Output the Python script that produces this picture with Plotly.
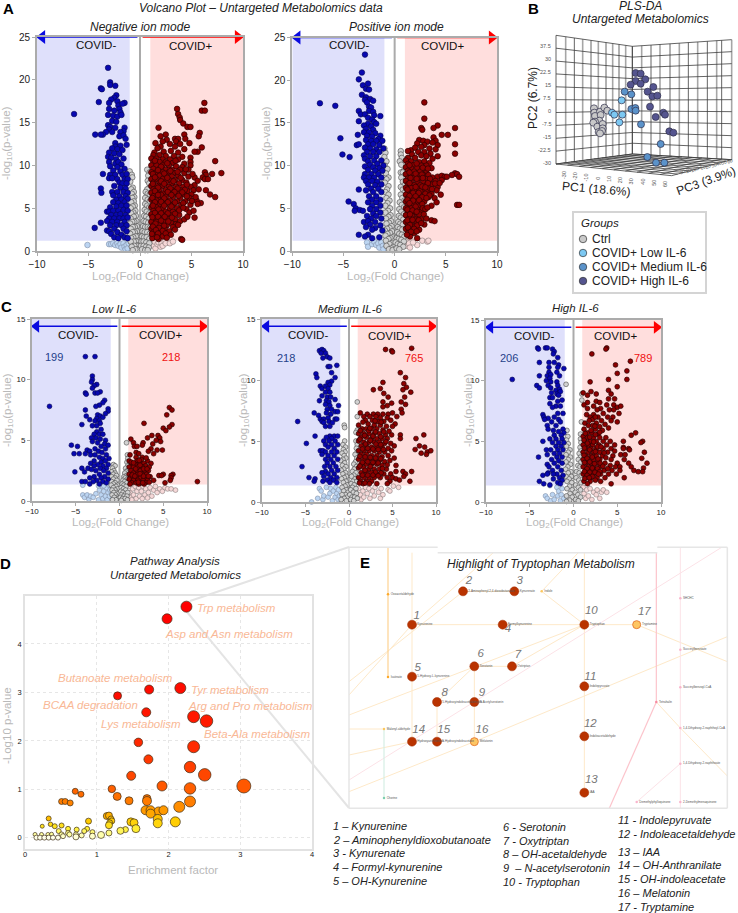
import plotly.graph_objects as go

W, H = 738, 913
FONT = "Liberation Sans"

# ---------- Panel A, negative mode ----------
a1_blue = [(-3.1,21.4),(-2.9,19.7),(-2.9,19.4),(-2.4,19.3),(-3.8,19.0),(-3.7,18.9),(-2.3,18.2),(-2.5,17.9),(-2.8,17.7),(-2.2,17.5),(-4.0,17.4),(-3.0,17.3),(-1.5,17.3),(-2.1,17.0),(-1.7,17.2),(-3.0,16.6),(-2.0,16.6),(-2.5,16.4),(-1.9,16.2),(-6.4,16.0),(-3.1,15.9),(-2.6,15.8),(-2.2,15.7),(-1.8,15.9),(-2.7,15.2),(-2.3,15.1),(-3.1,14.7),(-2.9,14.5),(-2.4,14.4),(-1.5,14.4),(-1.6,14.0),(-3.0,14.2),(-3.3,13.9),(-2.7,13.9),(-1.9,13.9),(-3.6,13.6),(-4.35,13.6),(-3.8,13.6),(-2.0,13.4),(-1.6,13.5),(-1.4,13.1),(-2.4,12.6),(-2.4,12.2),(-1.9,12.3),(-1.3,12.4),(-2.7,12.0),(-2.2,11.9),(-1.7,11.8),(-3.0,11.5),(-2.5,11.4),(-2.0,11.3),(-3.1,11.0),(-2.8,10.9),(-2.3,10.7),(-1.6,10.8),(-3.0,10.4),(-2.4,10.2),(-2.1,10.4),(-1.8,10.1),(-2.9,9.9),(-2.2,9.8),(-1.5,9.6),(-2.6,9.4),(-1.9,9.3),(-3.6,9.0),(-2.9,8.9),(-2.4,8.9),(-1.7,8.9),(-1.3,9.0),(-3.0,8.5),(-2.7,8.5),(-2.2,8.4),(-1.5,8.4),(-1.2,8.4),(-2.0,8.0),(-1.7,7.9),(-1.3,7.9),(-2.5,7.6),(-1.9,7.4),(-3.8,7.3),(-1.4,7.3),(-3.75,6.8),(-2.7,6.9),(-2.2,6.9),(-1.6,6.9),(-1.2,6.8),(-2.6,6.5),(-2.0,6.4),(-1.4,6.4),(-2.3,6.0),(-1.8,6.0),(-1.2,6.1),(-2.6,5.7),(-2.1,5.6),(-1.5,5.7),(-2.9,5.1),(-2.3,5.2),(-1.8,5.3),(-1.3,5.3),(-3.2,4.6),(-3.0,4.6),(-2.6,4.7),(-2.1,4.7),(-1.6,4.8),(-1.2,4.7),(-2.8,4.2),(-2.3,4.2),(-1.9,4.3),(-1.4,4.2),(-3.0,3.8),(-2.5,3.8),(-2.0,3.8),(-1.6,3.8),(-1.2,3.9),(-3.2,3.5),(-2.7,3.4),(-2.2,3.4),(-1.5,3.4),(-3.8,3.3),(-2.9,3.0),(-2.3,3.0),(-1.8,3.0),(-1.3,3.0),(-4.4,2.7),(-2.5,2.6),(-1.6,2.6),(-3.2,2.4),(-3.0,2.3),(-2.2,2.2),(-1.3,2.3),(-2.8,2.0),(-1.8,1.9),(-2.5,1.6),(-1.5,1.6),(-2.1,1.5),(-1.2,1.5)]
a1_red = [(6.25,17.3),(6.0,16.4),(6.3,16.4),(3.6,16.6),(3.7,16.0),(3.85,15.6),(3.9,15.3),(4.2,14.9),(4.6,14.5),(4.9,14.5),(1.8,14.4),(5.8,13.8),(2.5,13.6),(2.0,13.4),(4.3,13.6),(5.7,13.4),(4.4,13.1),(3.4,13.1),(3.7,13.1),(2.6,13.0),(2.2,12.8),(3.5,12.8),(1.5,12.6),(3.9,12.5),(2.9,12.5),(4.8,12.6),(2.0,12.2),(1.7,12.0),(3.4,12.2),(6.0,12.1),(4.3,11.9),(5.6,11.6),(1.4,11.5),(2.3,11.6),(3.0,11.7),(3.7,11.5),(5.3,11.6),(1.3,11.2),(1.9,11.2),(2.5,11.1),(3.3,11.1),(4.1,11.0),(1.1,10.8),(1.6,10.8),(2.2,10.7),(2.9,10.7),(3.7,10.7),(4.9,10.9),(7.3,10.5),(1.3,10.4),(1.9,10.4),(2.5,10.4),(3.2,10.3),(4.3,10.2),(4.9,10.4),(1.1,10.0),(1.6,10.0),(2.2,10.0),(2.8,10.0),(3.5,9.9),(4.1,9.8),(4.9,10.0),(1.3,9.6),(1.9,9.6),(2.5,9.5),(3.1,9.5),(3.9,9.5),(4.7,9.5),(1.1,9.2),(1.6,9.2),(2.2,9.2),(2.8,9.2),(3.4,9.1),(4.3,9.1),(6.3,9.2),(6.4,8.9),(7.0,9.0),(7.9,9.1),(1.3,8.8),(1.9,8.8),(2.5,8.8),(3.1,8.7),(3.7,8.8),(4.7,8.7),(6.1,8.6),(6.3,8.4),(6.6,8.4),(1.1,8.4),(1.6,8.4),(2.2,8.4),(2.8,8.3),(3.4,8.3),(4.1,8.3),(1.3,8.0),(1.9,8.0),(2.5,8.0),(3.1,7.9),(3.8,7.9),(4.5,8.0),(5.3,7.7),(1.1,7.6),(1.6,7.6),(2.2,7.6),(2.8,7.5),(3.5,7.5),(4.2,7.5),(4.9,7.5),(6.4,7.1),(1.3,7.2),(1.9,7.2),(2.5,7.1),(3.1,7.1),(3.9,7.1),(4.6,7.0),(5.2,7.1),(1.1,6.8),(1.6,6.8),(2.2,6.7),(2.9,6.7),(3.6,6.7),(4.3,6.6),(5.0,6.6),(6.8,6.6),(7.3,6.3),(1.3,6.4),(1.9,6.3),(2.5,6.3),(3.2,6.3),(3.9,6.2),(4.8,6.2),(1.1,6.0),(1.6,5.9),(2.2,5.9),(2.9,5.9),(3.6,5.8),(4.4,5.8),(5.5,5.9),(5.9,5.6),(5.6,5.5),(1.3,5.5),(1.9,5.5),(2.5,5.5),(3.2,5.4),(4.0,5.4),(4.9,5.4),(1.1,5.1),(1.6,5.1),(2.2,5.0),(2.9,5.0),(3.6,5.0),(4.5,4.9),(1.3,4.7),(1.9,4.6),(2.5,4.6),(3.2,4.6),(1.1,4.3),(1.6,4.2),(2.2,4.2),(2.9,4.2),(3.8,4.2),(4.8,4.5),(1.3,3.8),(1.9,3.8),(2.6,3.8),(3.4,3.7),(1.1,3.4),(1.6,3.4),(2.3,3.4),(3.0,3.3),(3.9,3.5),(5.3,3.9),(1.3,3.0),(1.9,3.0),(2.6,3.0),(1.1,2.6),(1.7,2.6),(2.4,2.6),(1.3,2.2),(2.0,2.2),(1.5,1.8),(2.2,1.7),(1.2,1.5),(1.8,1.4),(4.0,1.4),(4.1,1.3)]
a1_red2 = [(1.45,10.55),(2.05,9.85),(2.65,10.25),(3.45,10.55),(1.25,9.0),(1.75,9.45),(2.35,9.05),(2.95,9.35),(3.65,9.25),(4.45,9.55),(1.45,8.6),(2.05,8.15),(2.65,8.55),(3.25,8.15),(3.95,8.55),(4.55,7.75),(1.25,7.85),(1.75,7.4),(2.35,7.85),(2.95,7.3),(3.65,7.3),(4.35,7.15),(1.45,7.0),(2.05,6.55),(2.7,6.9),(3.35,6.9),(4.1,6.85),(1.2,6.2),(1.75,6.55),(2.35,6.15),(3.05,6.55),(3.75,6.45),(4.55,6.4),(1.45,5.7),(2.05,5.75),(2.7,5.7),(3.4,5.65),(4.2,5.6),(1.25,5.3),(1.8,4.85),(2.35,5.3),(3.05,5.2),(3.8,4.75),(1.45,4.45),(2.05,4.4),(2.7,4.4),(3.4,4.35),(1.2,3.95),(1.75,4.0),(2.4,4.0),(3.1,3.9),(1.5,3.2),(2.05,3.55),(2.75,3.45),(3.5,3.15),(1.25,2.85),(1.85,2.7),(2.35,2.95),(3.2,2.8),(1.55,2.45),(2.2,2.35),(2.85,2.3),(1.15,2.0),(1.75,2.05),(2.5,2.05),(3.4,2.5),(3.0,1.9),(1.65,1.6),(2.6,1.55),(3.7,3.05),(4.3,3.7),(4.6,4.0),(4.2,5.05),(5.2,4.7),(5.05,5.85),(5.4,6.3),(5.7,7.2),(5.3,8.6),(5.6,8.2),(5.1,9.0)]
a1_grey = [(-1.0,9.3),(-0.8,8.9),(-0.75,8.6),(-0.95,8.1),(-0.7,7.4),(-0.85,7.2),(-0.6,6.9),(-0.8,6.7),(-0.55,6.3),(-0.75,6.2),(-0.6,5.8),(-0.85,5.7),(-0.5,5.3),(-0.7,5.2),(-0.9,5.0),(-0.45,4.7),(-0.65,4.5),(-0.85,4.4),(-0.4,4.1),(-0.6,4.0),(-0.9,3.8),(-0.35,3.5),(-0.55,3.4),(-0.75,3.4),(-0.95,3.2),(-0.3,2.9),(-0.5,2.8),(-0.7,2.8),(-0.9,2.6),(-0.3,2.3),(-0.5,2.2),(-0.7,2.2),(-0.95,2.0),(-0.2,1.7),(-0.4,1.7),(-0.65,1.6),(-0.85,1.5),(-0.15,1.2),(-0.35,1.1),(-0.6,1.1),(-0.9,1.1),(-0.1,0.7),(-0.3,0.6),(-0.55,0.6),(-0.8,0.5),(-0.2,0.2),(-0.45,0.2),(-0.7,0.1),(0.7,9.5),(0.95,9.2),(0.8,8.8),(0.75,8.2),(0.9,7.9),(0.85,7.3),(0.7,7.2),(0.55,6.9),(0.75,6.7),(0.95,6.6),(0.5,6.2),(0.75,6.0),(0.95,5.8),(0.5,5.5),(0.7,5.3),(0.9,5.1),(0.45,4.8),(0.65,4.6),(0.9,4.4),(0.4,4.1),(0.6,4.0),(0.85,3.8),(0.35,3.5),(0.55,3.4),(0.8,3.3),(0.3,2.9),(0.5,2.8),(0.75,2.8),(0.95,2.7),(0.25,2.3),(0.45,2.2),(0.7,2.2),(0.95,2.0),(0.2,1.7),(0.4,1.6),(0.65,1.6),(0.9,1.4),(0.15,1.1),(0.35,1.1),(0.6,1.0),(0.9,0.9),(0.1,0.6),(0.35,0.6),(0.6,0.5),(0.85,0.4),(0.2,0.2),(0.5,0.1),(0.75,0.1)]
a1_lblue = [(-5.1,0.7),(-3.0,0.8),(-2.8,0.8),(-2.6,0.9),(-2.4,0.7),(-2.2,0.9),(-2.1,0.6),(-1.9,0.8),(-1.8,0.4),(-1.6,0.9),(-1.5,0.5),(-1.4,0.2),(-1.3,0.7),(-1.2,0.3),(-1.1,0.9)]
a1_pink = [(1.1,0.9),(1.3,0.6),(1.4,1.1),(1.5,0.3),(1.7,0.8),(1.8,1.0),(2.0,0.5),(2.1,0.9),(2.2,0.6),(2.4,1.1),(2.5,0.9),(2.9,0.9),(3.2,1.1)]

# ---------- Panel A, positive mode ----------
a2_blue = [(-2.9,23.0),(-3.2,20.9),(-3.5,20.1),(-2.6,19.6),(-3.1,19.4),(-2.8,19.0),(-2.5,18.9),(-3.2,18.3),(-2.8,18.0),(-2.9,17.7),(-2.4,17.8),(-2.1,17.6),(-7.3,17.3),(-2.7,17.4),(-5.8,17.0),(-2.5,16.9),(-2.3,16.8),(-3.5,16.4),(-2.5,16.4),(-2.1,16.3),(-3.3,16.0),(-2.9,16.0),(-2.0,15.9),(-1.4,15.8),(-2.6,15.6),(-2.2,15.4),(-3.5,15.2),(-2.0,15.1),(-2.6,14.9),(-1.8,14.9),(-3.0,14.7),(-2.3,14.6),(-2.8,14.3),(-2.1,14.2),(-3.0,13.9),(-2.5,13.9),(-1.9,13.8),(-1.4,13.5),(-3.6,13.6),(-2.7,13.5),(-2.2,13.4),(-5.3,13.2),(-1.6,13.1),(-2.8,13.0),(-2.3,12.9),(-1.8,12.9),(-1.2,12.9),(-3.7,12.4),(-3.5,12.5),(-2.6,12.5),(-2.1,12.5),(-1.5,12.4),(-2.9,12.1),(-2.4,12.0),(-1.1,12.0),(-1.8,11.9),(-2.7,11.6),(-2.1,11.6),(-1.5,11.6),(-5.1,11.3),(-3.0,11.2),(-2.4,11.1),(-1.8,11.1),(-4.4,11.0),(-2.9,10.8),(-2.6,10.5),(-2.0,10.6),(-1.3,10.6),(-2.4,10.1),(-1.7,10.2),(-1.1,10.0),(-2.9,9.9),(-2.1,9.8),(-1.5,9.7),(-2.6,9.5),(-1.9,9.4),(-1.2,9.4),(-2.9,9.0),(-2.3,9.0),(-1.6,9.0),(-3.0,8.6),(-2.5,8.6),(-2.0,8.6),(-1.3,8.6),(-2.8,8.2),(-2.2,8.2),(-1.7,8.1),(-2.6,7.8),(-1.9,7.7),(-1.3,7.8),(-3.5,7.2),(-2.3,7.3),(-1.6,7.3),(-2.8,7.1),(-2.1,6.9),(-1.3,6.9),(-2.5,6.4),(-1.8,6.4),(-2.2,6.0),(-1.4,6.0),(-4.5,5.8),(-2.6,5.7),(-1.8,5.7),(-4.0,5.5),(-2.2,5.3),(-1.4,5.3),(-3.8,5.0),(-2.4,4.9),(-1.8,4.9),(-3.4,4.8),(-3.1,4.7),(-3.9,4.7),(-2.1,4.4),(-1.4,4.5),(-2.7,4.1),(-1.8,4.1),(-2.3,3.8),(-1.3,3.8),(-3.0,3.4),(-2.6,3.5),(-1.9,3.4),(-2.4,3.1),(-1.4,3.0),(-2.8,2.8),(-1.9,2.7),(-2.2,2.5),(-1.2,2.4),(-3.5,1.9),(-2.6,1.9),(-2.9,1.7),(-2.2,1.5),(-1.5,1.6)]
a2_red = [(2.9,17.4),(2.9,15.5),(5.9,14.4),(2.6,14.4),(2.7,14.2),(4.2,14.7),(3.8,14.4),(4.6,13.6),(5.2,13.6),(3.8,13.3),(4.0,12.9),(2.4,13.0),(2.8,12.9),(5.9,12.5),(2.2,12.6),(3.2,12.8),(3.7,12.7),(4.2,12.4),(2.9,12.4),(1.6,11.8),(2.6,12.2),(2.0,12.1),(3.4,12.0),(4.0,11.9),(5.9,11.4),(1.3,11.7),(2.3,11.6),(2.9,11.6),(3.5,11.4),(1.7,11.3),(2.6,11.2),(3.1,11.1),(4.2,11.1),(1.3,10.9),(2.0,10.9),(3.7,10.8),(1.1,10.6),(1.6,10.5),(2.4,10.4),(2.9,10.5),(3.4,10.3),(1.3,10.2),(1.9,10.1),(2.6,10.0),(3.1,10.0),(1.1,9.8),(1.6,9.7),(2.2,9.7),(2.9,9.6),(3.6,9.7),(1.3,9.4),(1.9,9.3),(2.5,9.3),(3.1,9.2),(1.1,9.0),(1.6,8.9),(2.2,8.9),(2.8,8.9),(3.3,8.9),(5.9,9.1),(6.1,9.0),(5.6,8.9),(1.3,8.5),(1.9,8.6),(2.5,8.5),(3.1,8.4),(3.7,8.6),(4.2,8.7),(4.6,8.8),(4.9,8.7),(5.1,8.7),(6.3,8.7),(1.1,8.2),(1.6,8.1),(2.2,8.1),(2.8,8.1),(3.4,8.1),(4.0,8.2),(4.6,8.3),(1.3,7.8),(1.9,7.7),(2.5,7.7),(3.1,7.7),(3.7,7.8),(1.1,7.4),(1.6,7.4),(2.2,7.3),(2.8,7.3),(3.4,7.3),(4.2,7.5),(1.3,7.0),(1.9,7.0),(2.5,7.0),(3.1,6.9),(4.1,7.1),(1.1,6.6),(1.6,6.6),(2.2,6.6),(2.9,6.5),(3.6,6.7),(4.5,6.6),(1.3,6.2),(1.9,6.2),(2.5,6.1),(3.3,6.3),(3.9,6.2),(1.1,5.8),(1.6,5.8),(2.2,5.7),(2.9,5.8),(1.3,5.4),(1.9,5.4),(2.5,5.3),(6.1,5.4),(6.3,5.4),(1.1,5.0),(1.6,5.0),(2.2,4.9),(1.3,4.6),(1.9,4.5),(2.6,4.6),(1.1,4.2),(1.7,4.1),(2.3,4.1),(1.4,3.8),(2.0,3.7),(2.6,3.7),(1.1,3.4),(1.6,3.3),(2.2,3.3),(3.6,3.6),(3.9,3.5),(1.3,3.0),(2.0,2.9),(2.9,3.1),(1.1,2.6),(1.7,2.5),(2.4,2.5),(1.3,2.1),(1.9,2.1),(1.5,1.7),(2.2,1.5)]
a2_red2 = [(1.45,10.05),(2.15,10.25),(2.75,9.75),(3.25,9.65),(1.45,9.2),(2.05,9.05),(2.65,8.95),(3.45,8.45),(1.55,8.55),(2.15,8.45),(2.75,8.55),(3.25,7.95),(1.45,7.95),(2.05,7.5),(2.7,7.55),(3.0,7.45),(3.65,7.25),(1.25,7.2),(1.8,6.8),(2.35,6.8),(3.0,6.7),(3.4,6.5),(1.45,6.45),(2.05,6.4),(2.7,6.3),(3.1,6.2),(1.25,6.0),(1.8,5.9),(2.4,5.95),(2.7,5.5),(1.45,5.6),(2.05,5.2),(2.75,5.0),(1.25,4.85),(1.75,4.75),(2.4,4.3),(3.0,4.9),(1.5,4.3),(2.15,4.6),(2.85,4.3),(1.25,3.6),(1.75,3.65),(2.35,3.6),(3.1,3.8),(1.5,3.05),(2.2,3.0),(2.6,3.25),(1.3,2.75),(1.9,2.6),(2.15,2.3),(1.6,2.25),(1.2,1.9),(3.95,7.9),(4.4,7.95),(3.6,5.3),(4.1,5.7),(3.2,5.1)]
a2_grey = [(-1.0,12.0),(-0.9,11.5),(-1.0,11.0),(-0.8,10.5),(-0.95,10.0),(-0.7,9.6),(-0.85,9.1),(-0.6,8.6),(-0.8,8.4),(-0.95,8.0),(-0.6,7.6),(-0.75,7.2),(-0.9,6.9),(-0.6,6.6),(-0.8,6.2),(-0.5,5.9),(-0.7,5.6),(-0.9,5.3),(-0.45,5.0),(-0.65,4.7),(-0.9,4.5),(-0.4,4.2),(-0.6,4.0),(-0.85,3.8),(-0.35,3.5),(-0.55,3.3),(-0.8,3.2),(-0.3,2.9),(-0.5,2.7),(-0.75,2.6),(-0.95,2.4),(-0.25,2.3),(-0.45,2.1),(-0.7,2.0),(-0.9,1.8),(-0.2,1.6),(-0.4,1.5),(-0.6,1.4),(-0.85,1.2),(-0.1,1.1),(-0.3,0.9),(-0.5,0.8),(-0.8,0.6),(-0.1,0.5),(-0.3,0.3),(-0.55,0.2),(-0.2,0.1),(0.6,11.7),(0.6,11.3),(0.7,10.9),(0.5,10.5),(0.65,10.1),(0.9,9.4),(0.6,9.2),(0.8,9.2),(0.95,8.8),(0.65,8.6),(0.8,8.1),(0.95,7.7),(0.6,7.5),(0.8,7.2),(0.95,6.8),(0.6,6.6),(0.75,6.2),(0.95,5.9),(0.5,5.7),(0.7,5.4),(0.9,5.1),(0.45,4.9),(0.65,4.6),(0.9,4.3),(0.4,4.1),(0.6,3.9),(0.85,3.7),(0.35,3.4),(0.55,3.2),(0.8,3.1),(0.3,2.8),(0.5,2.6),(0.75,2.5),(0.25,2.2),(0.45,2.0),(0.7,1.9),(0.95,1.7),(0.2,1.5),(0.4,1.4),(0.65,1.3),(0.9,1.1),(0.1,1.0),(0.3,0.8),(0.55,0.7),(0.85,0.5),(0.2,0.3),(0.45,0.2)]
a2_lblue = [(-2.7,1.0),(-2.6,0.5),(-2.2,0.8),(-2.0,1.1),(-1.8,0.7),(-1.6,0.9),(-1.5,0.4),(-1.3,1.0),(-1.15,0.6),(-1.1,0.2)]
a2_pink = [(1.1,1.1),(1.2,0.6),(1.4,0.9),(1.5,0.4),(2.2,0.7),(2.7,1.2),(3.2,1.1),(3.3,1.2),(1.8,1.0)]

# ---------- Panel C, low IL-6 ----------
c1_blue = [(-3.9,11.9),(-2.8,11.9),(-3.1,10.3),(-3.1,10.0),(-3.2,9.8),(-2.6,9.6),(-2.9,9.5),(-3.1,9.3),(-3.9,8.9),(-3.8,8.8),(-2.2,9.0),(-2.8,8.9),(-2.5,8.9),(-1.7,8.3),(-1.9,8.1),(-2.3,7.9),(-2.7,7.8),(-8.0,7.8),(-1.3,7.6),(-1.3,7.4),(-3.9,7.5),(-1.6,7.2),(-2.5,7.1),(-2.2,7.0),(-2.6,6.8),(-3.8,7.0),(-1.9,6.9),(-3.4,6.7),(-2.8,6.6),(-2.3,6.6),(-2.2,6.4),(-4.3,6.3),(-2.6,6.2),(-3.1,6.2),(-2.1,5.9),(-2.6,5.7),(-2.9,5.5),(-2.3,5.5),(-1.9,5.5),(-2.7,5.2),(-3.2,5.2),(-2.2,5.1),(-1.6,5.0),(-3.1,4.9),(-2.5,4.8),(-1.7,4.7),(-5.5,4.6),(-2.1,4.5),(-1.3,4.6),(-4.8,4.5),(-2.8,4.3),(-1.6,4.3),(-3.7,4.2),(-3.4,4.1),(-2.4,4.1),(-2.0,4.0),(-5.2,3.9),(-4.6,3.9),(-3.9,3.9),(-3.3,3.8),(-2.8,3.8),(-1.5,3.8),(-2.3,3.6),(-1.9,3.5),(-1.2,3.5),(-2.9,3.3),(-2.1,3.2),(-1.6,3.3),(-3.3,3.1),(-2.5,3.0),(-1.3,3.0),(-2.9,2.9),(-1.9,2.9),(-4.3,2.7),(-3.6,2.7),(-2.2,2.7),(-1.5,2.7),(-3.2,2.6),(-2.7,2.5),(-1.8,2.5),(-5.1,2.4),(-4.0,2.4),(-1.3,2.3),(-2.3,2.2),(-2.9,2.0),(-1.7,2.0),(-2.1,1.9),(-1.3,1.8),(-3.4,1.9),(-2.6,1.7),(-4.3,1.6),(-3.9,1.6),(-3.0,1.6),(-1.9,1.6),(-1.5,1.5),(-3.4,1.4),(-2.3,1.4)]
c1_red = [(5.7,7.7),(6.0,7.5),(5.4,7.1),(2.8,6.4),(6.0,6.3),(5.7,6.1),(5.0,6.0),(5.3,5.8),(3.7,5.4),(4.4,5.4),(4.6,5.2),(3.2,5.2),(1.3,5.1),(4.2,5.0),(1.6,4.8),(2.7,4.8),(4.7,4.9),(3.8,4.7),(2.6,4.6),(1.7,4.5),(2.0,4.5),(3.6,4.3),(4.3,4.2),(4.9,4.2),(1.9,4.0),(3.3,4.1),(2.2,3.9),(1.2,3.8),(3.9,3.9),(1.9,3.6),(2.6,3.6),(1.1,3.3),(2.5,3.4),(3.2,3.3),(2.0,3.3),(3.6,3.1),(1.4,3.0),(1.8,3.0),(2.3,3.1),(2.8,3.1),(3.0,2.9),(1.1,2.8),(1.6,2.8),(2.1,2.8),(2.6,2.8),(3.4,2.8),(1.3,2.5),(1.9,2.5),(2.4,2.5),(2.9,2.5),(3.3,2.5),(1.1,2.2),(1.6,2.3),(2.1,2.2),(2.6,2.2),(3.1,2.2),(5.0,2.2),(4.5,2.1),(4.8,2.1),(6.1,2.2),(5.9,2.1),(1.3,2.0),(1.9,1.9),(2.4,1.9),(2.9,1.9),(3.5,2.0),(5.9,1.9),(1.1,1.8),(1.6,1.7),(2.1,1.7),(2.7,1.7),(3.2,1.7),(3.9,1.7),(5.8,1.7),(1.4,1.5),(1.9,1.5),(2.4,1.5),(3.0,1.5),(5.2,1.5),(8.9,1.6),(1.2,1.4),(2.2,1.4),(2.8,1.4)]
c1_red2 = [(1.35,3.2),(2.35,2.95),(2.75,2.65),(1.85,2.65),(3.15,2.65),(1.45,2.15),(2.35,2.25),(2.75,2.05),(3.3,2.05),(1.75,2.05),(2.15,1.55),(2.65,1.5),(3.4,1.55),(1.6,3.15),(2.25,3.35),(3.05,3.55)]
c1_grey = [(-0.7,3.0),(-0.5,2.9),(-0.8,2.7),(-0.65,2.5),(-0.9,2.4),(-0.5,2.3),(-0.7,2.2),(-0.35,2.1),(-0.9,2.0),(-0.5,1.9),(-0.7,1.8),(-0.3,1.7),(-0.9,1.6),(-0.5,1.5),(-0.7,1.4),(-0.2,1.3),(-0.95,1.3),(-0.4,1.2),(-0.7,1.1),(-0.2,1.0),(-0.5,0.9),(-0.85,0.9),(-0.3,0.7),(-0.65,0.7),(-0.15,0.6),(-0.45,0.5),(-0.85,0.5),(-0.25,0.3),(-0.6,0.3),(-0.1,0.2),(-0.4,0.1),(-0.8,0.1),(0.8,4.8),(0.9,3.8),(0.95,3.5),(0.85,3.2),(0.95,2.9),(0.7,2.7),(0.9,2.5),(0.75,2.4),(0.6,2.3),(0.8,2.1),(0.5,2.0),(0.65,1.9),(0.9,1.8),(0.4,1.7),(0.6,1.6),(0.85,1.5),(0.3,1.4),(0.5,1.3),(0.75,1.2),(0.2,1.1),(0.45,1.0),(0.7,0.9),(0.15,0.8),(0.4,0.7),(0.7,0.6),(0.95,0.7),(0.2,0.5),(0.5,0.4),(0.85,0.4),(0.1,0.3),(0.35,0.2),(0.65,0.2),(0.9,0.1),(0.2,0.05)]
c1_lblue = [(-4.2,0.5),(-4.0,0.3),(-3.7,0.5),(-3.5,0.15),(-3.3,0.4),(-3.0,0.3),(-2.7,0.6),(-2.4,0.1),(-2.3,0.9),(-2.1,0.5),(-2.0,1.2),(-1.9,0.2),(-1.8,0.8),(-1.6,0.4),(-1.5,1.1),(-1.4,0.1),(-1.3,0.7),(-1.2,1.3),(-1.15,0.4),(-1.1,0.9),(-2.4,1.25),(-4.2,1.3),(-1.8,1.25)]
c1_pink = [(1.1,1.2),(1.2,0.7),(1.3,0.3),(1.5,1.0),(1.6,0.5),(1.8,1.2),(1.9,0.2),(2.0,0.8),(2.2,1.1),(2.3,0.4),(2.5,0.8),(2.7,1.2),(2.9,0.5),(3.0,1.0),(3.3,0.7),(3.5,1.1),(3.7,0.4),(3.9,0.9),(4.1,1.2),(4.3,0.7),(4.6,1.0),(4.9,0.8),(5.2,1.1),(5.5,1.0),(5.9,1.0),(6.4,0.9),(1.4,0.1),(2.6,0.2),(3.2,0.25)]

# ---------- Panel C, medium IL-6 ----------
c2_blue = [(-3.4,12.4),(-3.1,12.5),(-2.9,12.4),(-3.2,12.2),(-2.7,12.2),(-2.5,11.9),(-2.2,11.8),(-3.0,11.8),(-1.4,11.2),(-2.4,11.1),(-2.2,11.1),(-3.8,10.5),(-2.0,10.6),(-3.7,10.2),(-1.6,10.2),(-2.0,9.9),(-2.4,9.8),(-2.2,9.6),(-3.3,9.5),(-3.1,9.3),(-2.7,9.5),(-2.4,9.3),(-2.7,9.0),(-2.2,9.0),(-3.1,8.7),(-2.5,8.6),(-2.1,8.6),(-3.4,8.3),(-2.6,8.3),(-2.3,8.2),(-1.6,8.4),(-2.7,8.0),(-2.2,7.9),(-1.2,7.9),(-2.5,7.6),(-2.0,7.6),(-1.6,7.4),(-4.0,7.3),(-3.5,7.1),(-2.6,7.3),(-2.1,7.2),(-1.3,7.4),(-3.3,6.8),(-2.9,6.8),(-2.4,6.9),(-1.6,6.8),(-1.4,6.8),(-5.9,6.6),(-3.1,6.6),(-2.9,6.5),(-2.3,6.6),(-1.9,6.5),(-2.7,6.2),(-2.2,6.2),(-3.9,5.4),(-2.2,5.4),(-1.7,5.4),(-1.3,5.4),(-2.6,5.3),(-2.0,5.2),(-2.9,5.0),(-2.3,5.0),(-1.6,5.0),(-4.9,4.8),(-2.7,4.7),(-2.0,4.7),(-1.3,4.7),(-2.4,4.5),(-1.7,4.4),(-3.3,4.2),(-3.0,4.2),(-2.7,4.1),(-2.0,4.1),(-1.4,4.1),(-3.1,3.9),(-2.4,3.8),(-1.7,3.8),(-2.7,3.5),(-2.1,3.5),(-1.3,3.5),(-2.5,3.2),(-1.8,3.2),(-2.8,2.9),(-2.2,2.9),(-1.5,2.9),(-5.4,2.9),(-2.7,2.5),(-2.0,2.6),(-1.3,2.6),(-3.1,2.4),(-2.4,2.3),(-1.7,2.3),(-2.9,2.1),(-2.1,2.0),(-1.4,2.0),(-4.6,2.0),(-3.9,1.9),(-2.5,1.8),(-1.8,1.8),(-4.0,1.7),(-3.0,1.7),(-2.2,1.6),(-1.4,1.6)]
c2_red = [(4.2,12.5),(4.9,12.4),(5.0,12.3),(7.2,12.6),(5.9,10.6),(6.5,10.2),(3.9,9.8),(6.3,9.7),(6.6,9.4),(2.8,9.2),(3.6,9.3),(6.2,9.2),(7.1,9.0),(4.0,8.9),(4.5,8.6),(6.4,8.6),(6.0,8.2),(6.5,8.0),(3.9,8.2),(4.9,8.1),(4.4,7.9),(3.9,7.8),(6.0,7.6),(1.3,7.3),(2.1,7.2),(2.8,7.2),(3.3,7.2),(3.9,7.2),(4.5,7.2),(5.0,7.3),(6.1,7.3),(1.7,7.0),(2.4,7.0),(3.1,7.0),(3.6,6.9),(4.4,6.9),(5.5,7.0),(1.9,6.7),(2.7,6.7),(3.3,6.6),(4.0,6.6),(4.8,6.7),(5.3,6.4),(1.1,6.3),(2.2,6.4),(2.9,6.3),(3.6,6.3),(4.3,6.2),(5.0,6.2),(1.5,6.0),(2.0,6.0),(2.6,6.0),(3.2,6.0),(3.9,5.9),(4.6,5.8),(1.1,5.6),(1.7,5.6),(2.3,5.6),(2.9,5.6),(3.5,5.6),(4.2,5.5),(4.9,5.5),(5.9,5.5),(8.6,5.5),(1.4,5.3),(2.0,5.3),(2.6,5.2),(3.2,5.2),(3.8,5.2),(4.4,5.2),(5.9,5.2),(7.7,5.2),(1.1,5.0),(1.7,4.9),(2.3,4.9),(2.9,4.9),(3.5,4.9),(4.1,4.8),(4.8,4.8),(1.4,4.6),(2.0,4.6),(2.6,4.5),(3.2,4.5),(3.8,4.5),(4.5,4.4),(5.2,4.6),(8.1,4.6),(8.7,4.5),(1.1,4.2),(1.7,4.2),(2.3,4.2),(2.9,4.2),(3.5,4.1),(4.1,4.1),(4.9,4.2),(7.6,4.3),(9.0,4.1),(9.4,4.2),(8.3,4.0),(8.9,3.9),(1.4,3.9),(2.0,3.9),(2.6,3.8),(3.2,3.8),(3.8,3.7),(4.5,3.8),(5.2,3.6),(1.1,3.5),(1.7,3.5),(2.3,3.5),(2.9,3.4),(3.5,3.4),(4.1,3.3),(1.4,3.1),(2.0,3.1),(2.6,3.1),(3.2,3.1),(3.8,3.0),(5.4,3.0),(1.1,2.8),(1.7,2.8),(2.3,2.7),(2.9,2.7),(3.5,2.7),(4.3,2.7),(5.4,2.5),(6.2,2.5),(7.2,2.5),(1.4,2.4),(2.0,2.4),(2.6,2.4),(3.2,2.3),(4.0,2.3),(4.8,2.3),(6.5,2.3),(1.1,2.0),(1.7,2.0),(2.3,2.0),(2.9,2.0),(3.6,2.0),(4.4,2.0),(5.0,2.0),(6.3,2.1),(5.4,1.9),(1.3,1.7),(2.0,1.7),(2.6,1.7),(4.7,1.7),(5.8,1.8),(7.0,1.7),(1.6,1.5),(3.2,1.5),(4.4,1.5)]
c2_red2 = [(1.3,5.85),(1.8,5.45),(2.25,5.85),(2.75,5.4),(3.05,5.75),(3.65,5.35),(4.0,5.75),(1.25,5.15),(1.9,4.75),(2.45,5.05),(3.1,4.75),(3.65,4.7),(4.25,4.95),(1.55,4.35),(2.15,4.4),(2.75,4.35),(3.35,4.3),(3.95,4.3),(1.25,3.75),(1.85,3.7),(2.45,3.65),(3.05,3.6),(3.65,3.55),(1.55,3.25),(2.15,3.3),(2.75,3.25),(3.35,3.2),(1.25,2.95),(1.85,2.6),(2.45,2.9),(3.05,2.45),(3.7,2.4),(1.55,2.2),(2.15,2.2),(2.75,2.2),(3.35,2.15),(1.2,1.55),(1.85,1.55),(2.35,1.5),(3.85,2.75),(4.4,3.05),(4.7,3.4),(2.4,6.05),(3.0,6.65),(3.7,6.55),(1.6,6.55)]
c2_grey = [(-0.5,5.0),(-0.7,4.7),(-0.4,4.5),(-0.65,4.3),(-0.45,4.1),(-0.8,4.0),(-0.55,3.8),(-0.35,3.6),(-0.7,3.5),(-0.95,3.4),(-0.5,3.2),(-0.75,3.0),(-0.35,2.9),(-0.6,2.7),(-0.9,2.6),(-0.4,2.4),(-0.7,2.3),(-0.3,2.1),(-0.55,2.0),(-0.85,1.9),(-0.35,1.7),(-0.65,1.6),(-0.2,1.4),(-0.45,1.3),(-0.8,1.2),(-0.3,1.0),(-0.6,0.9),(-0.1,0.8),(-0.4,0.6),(-0.8,0.6),(-0.2,0.4),(-0.55,0.3),(-0.9,0.2),(-0.3,0.1),(0.95,8.2),(-0.55,6.3),(-0.5,6.1),(0.95,7.0),(0.95,5.9),(0.8,5.7),(0.8,5.0),(0.95,4.7),(0.85,4.4),(0.95,4.1),(0.7,3.9),(0.9,3.6),(0.75,3.3),(0.55,3.1),(0.85,2.9),(0.6,2.7),(0.4,2.5),(0.8,2.4),(0.55,2.2),(0.3,2.1),(0.7,1.9),(0.45,1.7),(0.9,1.7),(0.25,1.5),(0.6,1.4),(0.4,1.2),(0.8,1.1),(0.2,1.0),(0.5,0.8),(0.85,0.7),(0.1,0.6),(0.35,0.4),(0.65,0.4),(0.95,0.3),(0.2,0.2),(0.55,0.1)]
c2_lblue = [(-4.3,0.0),(-3.6,0.3),(-3.4,1.1),(-3.2,0.9),(-3.0,0.2),(-2.9,0.5),(-2.6,1.2),(-2.4,0.4),(-2.2,0.7),(-2.1,1.1),(-1.9,0.1),(-1.8,0.9),(-1.6,0.4),(-1.5,1.2),(-1.4,0.7),(-1.25,0.2),(-1.2,1.0),(-1.1,0.5)]
c2_pink = [(1.1,1.1),(1.3,0.6),(1.4,0.2),(1.6,0.9),(1.7,0.4),(1.9,1.2),(2.1,0.7),(2.3,1.1),(2.4,0.3),(2.7,0.9),(2.9,0.5),(3.0,1.2),(3.4,0.8),(3.6,0.3),(3.7,1.1),(3.9,0.6),(4.5,1.0),(4.7,0.9),(5.1,1.3),(5.7,1.2)]

# ---------- Panel C, high IL-6 ----------
c3_blue = [(-4.1,12.7),(-4.0,12.6),(-3.2,12.7),(-3.0,12.7),(-2.4,12.6),(-2.2,12.4),(-2.3,12.2),(-1.8,11.9),(-3.9,11.5),(-2.8,11.5),(-2.2,11.5),(-1.7,11.3),(-2.8,11.1),(-1.8,11.1),(-1.1,11.0),(-2.8,10.7),(-1.9,10.7),(-3.9,10.4),(-3.0,10.4),(-2.6,10.5),(-1.6,10.4),(-3.1,10.0),(-2.7,10.2),(-7.0,10.1),(-2.6,9.9),(-4.2,9.6),(-3.9,9.4),(-1.9,9.9),(-2.9,9.6),(-1.8,9.6),(-2.6,9.4),(-2.0,9.2),(-1.6,9.3),(-2.5,9.0),(-1.9,8.9),(-1.5,9.1),(-1.7,8.8),(-2.7,8.6),(-2.4,8.6),(-1.8,8.3),(-1.3,8.4),(-2.7,8.1),(-2.0,7.9),(-2.4,7.8),(-1.5,7.9),(-1.8,7.3),(-1.2,7.3),(-3.5,7.2),(-3.4,7.0),(-2.9,6.9),(-2.2,7.0),(-3.3,6.8),(-1.7,6.8),(-2.5,6.6),(-1.5,6.6),(-3.0,6.3),(-2.0,6.3),(-1.2,6.0),(-2.9,6.0),(-2.3,5.9),(-1.7,5.8),(-1.1,5.7),(-2.2,5.5),(-1.4,5.5),(-3.5,5.0),(-2.7,5.2),(-2.0,5.2),(-1.3,5.2),(-2.4,4.9),(-1.7,4.9),(-1.1,4.9),(-2.0,4.6),(-1.4,4.6),(-3.1,4.3),(-2.6,4.3),(-1.8,4.3),(-1.2,4.3),(-2.2,4.0),(-1.6,4.0),(-3.0,3.9),(-4.0,3.7),(-1.9,3.7),(-1.3,3.7),(-2.5,3.5),(-1.7,3.4),(-3.0,3.1),(-2.2,3.2),(-1.3,3.2),(-2.8,2.9),(-1.8,2.9),(-2.4,2.6),(-1.4,2.6),(-2.9,2.4),(-1.9,2.3),(-1.2,2.2),(-3.5,2.2),(-3.0,2.3),(-2.3,2.3),(-1.6,2.0),(-2.3,1.9),(-1.3,1.8),(-3.9,1.7),(-3.4,1.5),(-1.8,1.6),(-1.5,1.5),(-2.7,1.4)]
c3_red = [(3.8,12.7),(3.7,12.6),(2.1,12.2),(6.5,11.6),(4.8,11.3),(6.1,10.8),(5.0,10.6),(6.1,10.1),(4.0,10.1),(1.9,9.9),(5.0,9.5),(2.0,9.1),(4.0,9.2),(1.1,9.0),(2.6,8.9),(4.3,8.9),(1.6,8.8),(4.0,8.5),(4.7,8.5),(2.6,8.3),(3.0,8.2),(1.6,8.2),(1.2,8.0),(4.6,8.0),(3.8,8.0),(2.3,7.9),(3.1,7.7),(5.0,7.8),(5.4,7.9),(1.6,7.7),(2.7,7.6),(4.1,7.6),(4.6,7.6),(3.4,7.3),(1.5,7.2),(2.3,7.2),(5.2,7.3),(1.9,7.0),(2.8,7.0),(3.9,7.0),(4.5,7.0),(2.2,6.8),(3.2,6.7),(4.3,6.7),(5.0,6.6),(1.3,6.5),(2.6,6.5),(3.6,6.4),(1.7,6.3),(2.2,6.3),(3.0,6.2),(4.0,6.1),(1.2,6.0),(2.5,6.0),(3.3,5.9),(1.6,5.7),(2.1,5.7),(2.8,5.6),(7.1,5.7),(6.6,5.5),(1.1,5.4),(1.6,5.3),(2.3,5.3),(3.0,5.3),(3.7,5.3),(1.3,5.0),(1.9,5.0),(2.6,5.0),(3.4,5.0),(4.2,5.0),(5.7,5.0),(7.9,5.0),(7.7,4.9),(1.1,4.7),(1.7,4.7),(2.2,4.7),(2.9,4.7),(3.8,4.7),(4.7,4.7),(1.4,4.4),(2.0,4.4),(2.6,4.4),(3.4,4.4),(4.3,4.4),(5.7,4.5),(1.1,4.1),(1.7,4.1),(2.3,4.1),(3.0,4.1),(3.9,4.1),(4.7,4.2),(6.3,4.4),(6.4,4.3),(5.7,4.4),(8.1,4.1),(1.4,3.8),(2.0,3.8),(2.6,3.8),(3.3,3.8),(4.5,3.8),(5.4,3.9),(5.9,3.9),(1.1,3.5),(1.7,3.5),(2.3,3.5),(3.0,3.5),(4.3,3.5),(5.8,3.5),(7.8,3.6),(1.4,3.2),(2.0,3.2),(2.6,3.2),(3.6,3.2),(4.2,3.0),(5.0,3.2),(6.3,3.2),(8.4,3.2),(1.1,2.9),(1.7,2.9),(2.3,2.9),(3.0,2.9),(4.8,2.9),(5.3,2.9),(6.6,2.9),(8.0,2.8),(1.4,2.6),(2.0,2.6),(2.6,2.6),(3.5,2.6),(4.4,2.6),(5.3,2.6),(6.9,2.6),(7.4,2.5),(7.9,2.5),(1.1,2.3),(1.7,2.3),(2.3,2.3),(3.1,2.3),(4.0,2.3),(4.9,2.3),(1.4,2.0),(2.0,2.0),(2.7,2.0),(3.6,2.0),(5.8,2.0),(1.2,1.7),(1.9,1.7),(3.1,1.7),(4.3,1.5),(1.6,1.5)]
c3_red2 = [(1.35,5.65),(1.85,5.35),(2.5,5.55),(1.2,5.1),(1.6,4.85),(2.3,4.95),(2.75,4.55),(1.25,4.45),(1.85,4.3),(2.5,4.15),(3.15,4.55),(1.2,3.85),(1.55,3.6),(2.15,3.7),(2.8,3.55),(3.5,4.05),(1.25,3.25),(1.85,3.3),(2.4,3.15),(3.05,3.2),(1.55,2.75),(2.15,2.8),(2.75,2.75),(3.35,2.95),(1.25,2.5),(1.85,2.45),(2.45,2.45),(3.0,2.5),(1.55,2.2),(2.15,2.1),(2.85,2.3),(1.3,1.95),(1.8,2.0),(2.5,1.8),(3.9,2.75),(3.7,3.65),(2.45,6.25),(2.0,5.9),(3.0,5.75),(1.8,6.7),(2.5,7.0)]
c3_grey = [(-0.85,9.7),(0.95,8.9),(0.95,8.4),(0.9,6.6),(-0.75,5.9),(-0.65,5.4),(0.8,5.6),(0.8,5.2),(-0.8,5.1),(-0.6,4.8),(0.85,4.9),(-0.8,4.6),(0.75,4.5),(-0.4,4.3),(0.85,4.2),(-0.6,4.1),(0.65,4.0),(-0.85,3.9),(-0.35,3.7),(0.8,3.7),(-0.6,3.5),(0.55,3.5),(-0.85,3.3),(0.85,3.3),(-0.35,3.1),(0.5,3.0),(-0.65,2.9),(0.75,2.9),(-0.9,2.7),(-0.3,2.5),(0.35,2.5),(-0.6,2.4),(0.65,2.4),(0.9,2.2),(-0.25,2.1),(-0.85,2.1),(0.3,2.0),(-0.5,1.9),(0.6,1.8),(-0.75,1.7),(-0.2,1.6),(0.85,1.6),(0.25,1.4),(-0.45,1.3),(0.55,1.2),(-0.75,1.1),(-0.15,1.0),(0.8,1.0),(0.2,0.8),(-0.4,0.7),(0.5,0.6),(-0.8,0.5),(-0.15,0.4),(0.8,0.4),(0.25,0.2),(-0.45,0.15),(0.55,0.1),(-0.8,0.05)]
c3_lblue = [(-3.2,0.5),(-3.0,0.3),(-2.6,0.1),(-2.4,0.6),(-2.2,0.2),(-1.9,1.2),(-1.8,0.5),(-1.7,0.9),(-1.5,0.1),(-1.4,0.6),(-1.3,1.1),(-1.1,0.3),(-2.7,1.35)]
c3_pink = [(1.1,1.2),(1.2,0.7),(1.4,0.3),(1.5,1.0),(1.7,0.5),(1.9,1.1),(2.1,0.2),(2.3,0.8),(2.6,0.6),(2.7,1.0),(3.2,0.8),(3.4,1.0),(3.8,0.8),(3.0,0.3)]

# ---------- Panel B ----------
b_ctrl = [(282,325),(283,338),(300,335),(313,323),(322,332),(285,348),(302,345),(298,362),(285,365),(280,368),(292,380),(308,372),(308,385),(296,396),(306,393),(300,400)]
b_low = [(336,338),(343,344),(365,301),(367,344),(358,367)]
b_med = [(374,275),(394,283),(394,327),(406,324),(407,332),(423,373),(482,432),(442,471),(468,488),(493,488)]
b_high = [(407,219),(422,221),(436,238),(407,243),(422,251),(392,254),(460,261),(443,275),(457,289),(472,287),(450,320),(467,351),(490,338),(495,344),(508,394),(520,398)]
b_groups = ["Ctrl", "COVID+ Low IL-6", "COVID+ Medium IL-6", "COVID+ High IL-6"]
b_colors = ["#c9c9c9", "#7cc8f2", "#5b93ca", "#55558f"]
b_pc2_ticks = ["37.5","30","22.5","15","7.5","0","-7.5","-15","-22.5","-30"]
b_pc1_ticks = ["-30","-20","-10","0","10","20","30","40","50","60"]

# ---------- Panel D ----------
d_x = [2.25,1.98,1.73,2.165,1.29,1.69,2.35,2.53,1.58,2.35,1.72,2.30,1.48,2.505,3.05,1.91,2.30,1.21,0.70,0.78,1.285,1.45,1.70,1.70,2.30,2.15,0.51,0.56,0.63,1.68,1.75,1.86,1.93,1.75,1.14,1.17,1.85,1.20,1.21,1.18,0.33,0.885,2.095,1.476,1.52,1.85,0.355,0.24,0.415,0.51,1.17,1.546,0.60,0.72,1.40,1.33,0.866,0.47,0.825,1.17,0.94,0.60,0.14,0.23,0.32,0.37,0.51,0.62,0.71,0.79,0.94,1.06,0.53,0.71,0.16,0.21,0.27,0.33,0.39,0.46]
d_y = [4.77,4.52,3.06,3.09,2.93,2.59,2.50,2.41,1.97,1.88,1.62,1.46,1.28,1.30,1.07,1.07,1.02,1.01,0.96,0.90,0.855,0.765,0.81,0.76,0.75,0.64,0.75,0.75,0.72,0.57,0.57,0.545,0.57,0.50,0.45,0.46,0.39,0.39,0.35,0.31,0.40,0.345,0.33,0.33,0.31,0.30,0.28,0.24,0.24,0.255,0.26,0.19,0.186,0.17,0.17,0.145,0.186,0.14,0.14,0.10,0.117,0.10,0.07,0.07,0.07,0.075,0.07,0.07,0.07,0.05,0.035,0.06,0.035,0.02,0.005,0.005,0.005,0.005,0.005,0.005]
d_size = [11,10,9,11,8,9,12,12.5,8.5,12,9,11.5,9,12.5,14,10,11.5,7.5,6,6,8,8,8,9,11,11,6,6,6,9,9,9,9,9,7,7,9,6,6,6,5,6,10,8,8,9,4.5,4,5,5,7,8,5,5,6,7,5,5,5,6,5,5,4,4,4,4,5,5,5,5,6,7,5,6,5,5,5,5,5,5]
d_labels = [("Trp metabolism",195,608,"left"),("Asp and Asn metabolism",163,634,"left"),("Butanoate metabolism",56,678,"left"),("Tyr metabolism",189,690,"left"),("BCAA degradation",41,705,"left"),("Arg and Pro metabolism",186,706,"left"),("Lys metabolism",99,723.5,"left"),("Beta-Ala metabolism",202,733.5,"left")]

# ---------- Panel E ----------
e_nodes = [(1,246,284,260,257,"Kynurenine"),(2,399,184,417,153,"2-Aminophenyl-2,4-dioxobutanoate"),(3,553,184,569,153,"Kynurenate"),(4,518,284,534,297,"Formylkynurenine"),(5,246,440,263,413,"5-Hydroxy-L-kynurenine"),(6,433,409,452,371,"Serotonin"),(7,546,409,564,375,"Oxitriptan"),(8,321,516,344,488,"5-Hydroxyindoleacetaldehyde"),(9,433,516,456,488,"N-Acetylserotonin"),(10,763,284,784,244,"Tryptophan"),(11,763,469,781,441,"Indolepyruvate"),(12,763,619,781,582,"Indoleacetaldehyde"),(13,763,788,784,749,"IAA"),(14,246,635,266,599,"Hydroxyanthranilate"),(15,321,635,341,601,"5-Hydroxyindoleacetate"),(16,433,635,456,601,"Melatonin"),(17,920,284,943,247,"Tryptamine")]
e_pale_nodes = [16, 17]
e_small = [(174,193,"#fda92a","Oxoacetaldehyde"),(174,441,"#fda92a","Isatinate"),(635,184,"#fcc860","Indole"),(162,597,"#fcc860","Malonyl-aldehyde"),(162,804,"#7ccfae","Chorine"),(979,516,"#f78aa0","Tetrahalin"),(1051,205,"#f9b4cc","SHCHC"),(1051,359,"#f9b4cc","Succinylbenzoate"),(1051,472,"#f9b4cc","Succinylbenzoyl-CoA"),(1051,594,"#f9b4cc","1,4-Dihydroxy-2-naphthoyl-CoA"),(1051,701,"#f9b4cc","1,4-Dihydroxy-2-naphthoate"),(1051,816,"#f9b4cc","2-Demethylmenaquinone"),(920,816,"#f9b4cc","Demethylphylloquinone")]
e_orange_edges = [(246,284,763,284),(763,284,920,284),(246,68,246,635),(763,68,763,788),(57,455,400,184),(400,184,553,184),(57,495,246,284),(433,409,546,409),(433,409,433,635),(321,516,321,635),(321,516,433,409),(546,409,763,284),(57,555,763,284),(635,184,763,284),(635,184,745,68),(246,284,490,68),(57,597,162,597),(57,675,246,635),(57,785,433,635),(433,635,1192,320),(920,284,1192,395),(1051,594,1192,738),(979,516,1051,594)]
e_strong_edges = [(174,52,174,441)]
e_pink_edges = [(57,750,1175,52),(1051,52,1051,835),(1051,701,920,816)]
e_red_edges = [(979,68,979,516),(979,516,838,835)]
e_green_edges = [(162,597,162,804)]
e_list = [("1 – Kynurenine",331,826),("2 – Aminophenyldioxobutanoate",331,840),("3 - Kynurenate",331,853),("4 – Formyl-kynurenine",331,867),("5 – OH-Kynurenine",331,881),("6 - Serotonin",501,827),("7 - Oxytriptan",501,841),("8 – OH-acetaldehyde",501,854),("9  – N-acetylserotonin",501,868),("10 - Tryptophan",501,882),("11 - Indolepyruvate",616,820),("12 - Indoleacetaldehyde",616,834),("13 – IAA",616,852),("14 – OH-Anthranilate",616,865),("15 - OH-indoleacetate",616,879),("16 – Melatonin",616,893),("17 - Tryptamine",616,907)]

# ---------- helpers ----------
def fx(p): return p / W
def fy(p): return 1 - p / H
fig = go.Figure()
ann, shp = [], []

def text(t, x, y, size=11.5, color="#222", anchor="center", rot=0, italic=False, bold=False):
    if italic: t = "<i>%s</i>" % t
    if bold: t = "<b>%s</b>" % t
    ann.append(dict(text=t, x=fx(x), y=fy(y), xref="paper", yref="paper", showarrow=False, xanchor=anchor,
                    yanchor="middle", textangle=rot, font=dict(size=size, color=color, family=FONT)))

def hline(x0, y0, x1, y1, color="#e4e4e4", w=2):
    shp.append(dict(type="line", xref="paper", yref="paper", x0=fx(x0), y0=fy(y0), x1=fx(x1), y1=fy(y1),
                    line=dict(color=color, width=w), layer="below"))

n_ax = [0]
def axes(x0, x1, y0, y1, xr, yr, visible=False, **kw):
    n_ax[0] += 1
    i = n_ax[0]
    sx = "" if i == 1 else str(i)
    xa = dict(domain=[fx(x0), fx(x1)], range=xr, anchor="y" + sx, visible=visible, showgrid=False, zeroline=False)
    ya = dict(domain=[fy(y1), fy(y0)], range=yr, anchor="x" + sx, visible=visible, showgrid=False, zeroline=False)
    xa.update(kw.get("x", {})); ya.update(kw.get("y", {}))
    fig.update_layout(**{"xaxis" + sx: xa, "yaxis" + sx: ya})
    return "x" + sx, "y" + sx

def pts(xa, ya, data, color, line, lw, size):
    fig.add_trace(go.Scatter(x=[p[0] for p in data], y=[p[1] for p in data], mode="markers", xaxis=xa, yaxis=ya,
                             marker=dict(color=color, size=size, opacity=1, line=dict(color=line, width=lw)), showlegend=False, hoverinfo="skip", cliponaxis=False))

def volcano(box, ymax, ytick, floor, data, size, tickfont, arrow_y, tri, xstand):
    x0, x1, y0, y1 = box
    axstyle = dict(visible=True, linecolor="#ababab", linewidth=2, mirror=True, ticks="outside", ticklen=3, tickcolor="#ababab",
                   tickfont=dict(size=tickfont, color="#222", family=FONT), showgrid=False, zeroline=False)
    xa, ya = axes(x0, x1, y0, y1, [-10, 10], [0, ymax], x=dict(axstyle, tickvals=[-10,-5,0,5,10], ticklabelstandoff=xstand),
                  y=dict(axstyle, tickvals=list(range(0, ymax + 1, ytick))))
    shp.append(dict(type="rect", xref=xa, yref=ya, x0=-10, x1=-1, y0=floor, y1=ymax, fillcolor="#dfe0fb", line_width=0, layer="below"))
    shp.append(dict(type="rect", xref=xa, yref=ya, x0=1, x1=10, y0=floor, y1=ymax, fillcolor="#ffdedd", line_width=0, layer="below"))
    shp.append(dict(type="line", xref=xa, yref=ya, x0=0, x1=0, y0=0, y1=ymax, line=dict(color="#ababab", width=2), layer="below"))
    lb, pk, gr, bl, rd = data
    pts(xa, ya, lb, "#bcd5f2", "#7f8fa8", 0.6, size)
    pts(xa, ya, pk, "#f6d8d8", "#8a7a7a", 0.6, size)
    pts(xa, ya, gr, "#d2d2d2", "#4a4a4a", 0.6, size)
    pts(xa, ya, bl, "#0808b0", "#050550", 0.6, size)
    pts(xa, ya, rd, "#8c0000", "#2a0000", 0.7, size)
    for col, tail, tip, sym in (("#0a0ae0", -0.25, -9.5, "triangle-left"), ("#ff0000", 0.25, 9.5, "triangle-right")):
        fig.add_trace(go.Scatter(x=[tail, tip], y=[arrow_y, arrow_y], mode="lines", xaxis=xa, yaxis=ya, cliponaxis=False,
                                 line=dict(color=col, width=1.6), showlegend=False, hoverinfo="skip"))
        fig.add_trace(go.Scatter(x=[tip], y=[arrow_y], mode="markers", xaxis=xa, yaxis=ya, cliponaxis=False,
                                 marker=dict(symbol=sym, size=tri, color=col), showlegend=False, hoverinfo="skip"))
    return xa, ya

# ---------- volcano panels ----------
volcano((37, 243, 37, 251), 25, 5, 1.2, (a1_lblue, a1_pink, a1_grey, a1_blue, a1_red + a1_red2), 5.6, 10, 25, 12, 0)
volcano((292.3, 497, 37.5, 251), 25, 5, 1.2, (a2_lblue, a2_pink, a2_grey, a2_blue, a2_red + a2_red2), 5.6, 10, 25, 12, 0)
volcano((32, 207, 319, 501), 15, 5, 1.35, (c1_lblue, c1_pink, c1_grey, c1_blue, c1_red + c1_red2), 4.8, 8, 14.4, 11, -2)
volcano((262, 436, 319, 502), 15, 5, 1.35, (c2_lblue, c2_pink, c2_grey, c2_blue, c2_red + c2_red2), 4.8, 8, 14.4, 11, -2)
volcano((486, 661, 320, 502), 15, 5, 1.35, (c3_lblue, c3_pink, c3_grey, c3_blue, c3_red + c3_red2), 4.8, 8, 14.4, 11, -2)

GR = "#b9b9b9"
LOGFC = "Log<sub>2</sub>(Fold Change)"
LOGP = "-log<sub>10</sub>(p-value)"
for cx, ty in ((140, 277), (395, 277), (120, 523), (350, 523), (574, 523)):
    text(LOGFC, cx, ty, 11.5, GR)
for lx, cy in ((7, 143), (267, 143), (8, 410), (244, 410), (469, 410)):
    text(LOGP, lx, cy, 11.5, GR, rot=-90)
for t, x, y in (("COVID-",96,45),("COVID+",190,46),("COVID-",349,45),("COVID+",442,46),("COVID-",78,335),("COVID+",160,335),("COVID-",308,335),("COVID+",389,336),("COVID-",534,336),("COVID+",615,336)):
    text(t, x, y, 11.5, "#111")
for t, x, y, c in (("199",54,357,"#25408a"),("218",171,357,"#f01010"),("218",286,358,"#25408a"),("765",414,358,"#f01010"),("206",509,358,"#25408a"),("789",643,358,"#f01010")):
    text(t, x, y, 11, c)
text("Volcano Plot – Untargeted Metabolomics data", 261, 8, 12, "#222", italic=True)
text("Negative ion mode", 140, 27, 12, "#222", italic=True)
text("Positive ion mode", 396, 27, 12, "#222", italic=True)
text("Low IL-6", 115, 309, 11.5, "#222", italic=True)
text("Medium IL-6", 350, 309, 11.5, "#222", italic=True)
text("High IL-6", 575, 308, 11.5, "#222", italic=True)
for t, x, y in (("A",8,8),("B",533,8),("C",6,306),("D",5,563),("E",365,562)):
    text(t, x, y, 15, "#000", bold=True)

# ---------- panel B ----------
bx, by = axes(500, 738, 0, 300, [0, 714], [900, 0])
def seg_trace(xa, ya, segs, color, w):
    xs, ys = [], []
    for s in segs:
        xs += [s[0], s[2], None]; ys += [s[1], s[3], None]
    fig.add_trace(go.Scatter(x=xs, y=ys, mode="lines", xaxis=xa, yaxis=ya, line=dict(color=color, width=w), showlegend=False, hoverinfo="skip", cliponaxis=False))
def mix(a, b, t): return a + (b - a) * t
def ymix(x, xa, ya_, xb, yb): return ya_ + (yb - ya_) * (x - xa) / (xb - xa)
L_V = [168,197,223,248,273,295,318,338,357,377,397]
R_V = [397,425,453,480,510,538,565,593,622,650,665,695]
thin, thick = [], []
for i, x in enumerate(L_V):
    s = (x, ymix(x,168,106,397,139), x, ymix(x,168,492,397,462))
    (thick if i % 2 else thin).append(s)
for i, x in enumerate(R_V):
    s = (x, ymix(x,397,139,695,119), x, ymix(x,397,462,695,479))
    (thick if i % 2 else thin).append(s)
seg_trace(bx, by, thick, "#a6a6a6", 1.6)
hz = []
for i in range(11):
    t = i / 10
    hz.append((168, mix(106,492,t), 397, mix(139,462,t)))
    hz.append((397, mix(139,462,t), 695, mix(119,479,t)))
for i in range(11):
    t = i / 10
    hz.append((mix(168,515,t), mix(492,527,t), mix(397,695,t), mix(462,479,t)))
    hz.append((mix(168,397,t), mix(492,462,t), mix(515,695,t), mix(527,479,t)))
seg_trace(bx, by, thin + hz, "#3c3c3c", 0.8)
for d, c in zip((b_ctrl, b_low, b_med, b_high), b_colors):
    pts(bx, by, d, c, "#2f2f4a", 0.7, 7)
for i, t in enumerate(b_pc2_ticks):
    text(t, 500 + 159/3, (138 + 39*i)/3, 5.5, "#555", anchor="right")
for i, t in enumerate(b_pc1_ticks):
    text(t, 500 + (192 + 33.7*i)/3, (519 + 3*i)/3 + 2, 5.5, "#555", rot=-90)
for i, t in enumerate(b_pc1_ticks):
    text(t, 500 + (545 + 16*i)/3, (516 - 3.7*i)/3, 5, "#555", rot=-20)
text("PC2 (6.7%)", 533, 98, 12, "#222", rot=-90)
text("PC1 (18.6%)", 596, 189, 12, "#222", rot=5)
text("PC3 (3.9%)", 706, 181, 12, "#222", rot=-20)
text("PLS-DA", 640, 6.5, 12, "#222", italic=True)
text("Untargeted Metabolomics", 640, 19, 12, "#222", italic=True)
shp.append(dict(type="rect", xref="paper", yref="paper", x0=fx(573), x1=fx(706), y0=fy(293), y1=fy(212), line=dict(color="#d4d4d4", width=2), fillcolor="rgba(0,0,0,0)"))
text("Groups", 579, 223, 11.5, "#222", anchor="left", italic=True)
ly = [239, 253, 267, 281]
for g, c, y in zip(b_groups, b_colors, ly):
    text(g, 590, y, 12, "#222", anchor="left")
lx2, ly2 = axes(0, 738, 0, 913, [0, 738], [913, 0])
for c, y in zip(b_colors, ly):
    pts(lx2, ly2, [(583, y)], c, "#333", 0.7, 7.5)

# ---------- panel D ----------
grid = dict(visible=True, showgrid=True, gridcolor="#e6e6e6", griddash="dot", gridwidth=1, linecolor="#e2e2e2", linewidth=1.5, mirror=True,
            zeroline=False, ticks="", tickfont=dict(size=7.5, color="#222", family=FONT))
dx, dy = axes(25, 312, 596, 849, [0, 4], [-0.23, 4.99], x=dict(grid, tickvals=[0,1,2,3,4], ticklabelstandoff=-3), y=dict(grid, tickvals=[0,1,2,3,4]))
fig.add_trace(go.Scatter(x=d_x, y=d_y, mode="markers", xaxis=dx, yaxis=dy, showlegend=False, hoverinfo="skip",
    marker=dict(size=d_size, color=d_y, cmin=0, cmax=4.8, opacity=1, line=dict(color="#40301a", width=0.7),
                colorscale=[[0,"#ffffee"],[0.015,"#ffffa0"],[0.04,"#ffee30"],[0.07,"#ffcc00"],[0.11,"#ffa000"],[0.16,"#ff7a00"],[0.25,"#ff4a00"],[0.4,"#ff2a00"],[0.6,"#ff0c00"],[1,"#ff0000"]])))
for t, x, y, a in d_labels:
    text(t, x, y, 11.5, "#f9b896", anchor=a, italic=True)
text("Pathway Analysis", 175, 561, 11.5, "#222", italic=True)
text("Untargeted Metabolomics", 175, 575, 11.5, "#222", italic=True)
text("Enrichment factor", 173, 870, 11.5, GR)
text("-Log10 p-value", 7, 726, 11.5, GR, rot=-90)

# ---------- panel E ----------
hline(190, 601, 349, 547)
hline(187, 612, 349, 808)
ex, ey = axes(330, 738, 530, 820, [0, 1224], [870, 0])
seg_trace(ex, ey, e_orange_edges, "#fee9c9", 1)
seg_trace(ex, ey, e_strong_edges, "#fdd292", 1.2)
seg_trace(ex, ey, e_pink_edges, "#fce2e7", 1)
seg_trace(ex, ey, e_red_edges, "#fcc4cc", 1.2)
seg_trace(ex, ey, e_green_edges, "#d5efe4", 1.2)
frame = [(323,52,57,52),(57,52,57,835),(57,835,1192,835),(1192,835,1192,52),(1192,52,982,52),(323,68,982,68)]
seg_trace(ex, ey, frame, "#e6e6e6", 1.5)
pts(ex, ey, [(n[1], n[2]) for n in e_nodes if n[0] not in e_pale_nodes], "#b93300", "#a02c00", 0.5, 9)
pts(ex, ey, [(n[1], n[2]) for n in e_nodes if n[0] in e_pale_nodes], "#fdc663", "#e8803a", 1, 8)
fig.add_trace(go.Scatter(x=[s[0] for s in e_small], y=[s[1] for s in e_small], mode="markers", xaxis=ex, yaxis=ey, showlegend=False, hoverinfo="skip",
                         marker=dict(color=[s[2] for s in e_small], size=2.5, opacity=1)))
fig.add_trace(go.Scatter(x=[n[1] + 16 for n in e_nodes] + [s[0] + 8 for s in e_small], y=[n[2] for n in e_nodes] + [s[1] for s in e_small],
                         text=[n[5] for n in e_nodes] + [s[3] for s in e_small], mode="text", textposition="middle right", xaxis=ex, yaxis=ey,
                         textfont=dict(size=3, color="#555", family=FONT), showlegend=False, hoverinfo="skip"))
fig.add_trace(go.Scatter(x=[n[3] for n in e_nodes], y=[n[4] for n in e_nodes], text=["<i>%d</i>" % n[0] for n in e_nodes], mode="text", textposition="middle center",
                         xaxis=ex, yaxis=ey, textfont=dict(size=11.5, color="#777", family=FONT), showlegend=False, hoverinfo="skip"))
text("Highlight of Tryptophan Metabolism", 541, 563.5, 12, "#222", italic=True)
for t, x, y in e_list:
    text(t, x, y, 11, "#222", anchor="left", italic=True)

fig.update_layout(width=W, height=H, autosize=False, margin=dict(l=0, r=0, t=0, b=0, autoexpand=False), paper_bgcolor="white", plot_bgcolor="rgba(0,0,0,0)",
                  showlegend=False, annotations=ann, shapes=shp, font=dict(family=FONT))
fig.write_html("out.html", config={"displayModeBar": False}, post_script="document.body.style.margin='0';document.documentElement.style.overflow='hidden';")
